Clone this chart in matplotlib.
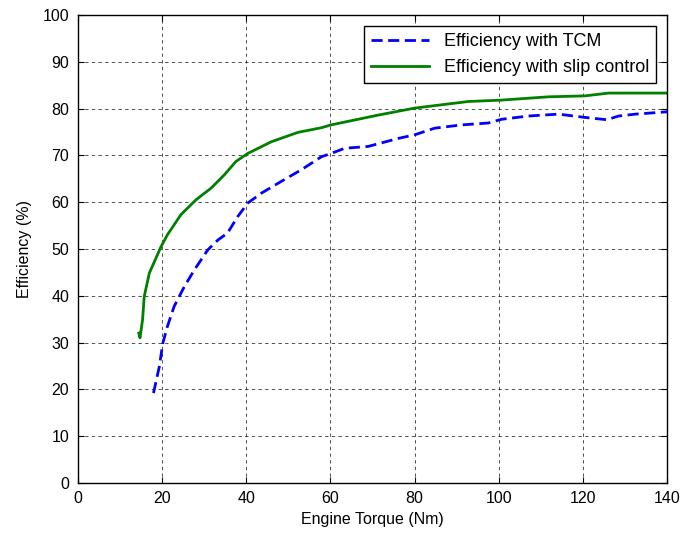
import matplotlib
matplotlib.use('Agg')
import matplotlib.pyplot as plt

plt.rcParams['font.family'] = ['Liberation Sans', 'DejaVu Sans']

# efficiency with TCM (blue dashed)
tcm_torque = [18.0, 19.4, 20.2, 21.3, 22.9, 25.3, 27.7, 30.9, 33.3, 35.6, 38.0,
              40.4, 43.6, 48.3, 53.1, 57.9, 60.2, 63.4, 69.0, 76.1, 80.1, 84.8,
              91.2, 97.5, 100.7, 107.1, 114.2, 120.5, 125.7, 128.5, 132.5, 140.0]
tcm_eff = [19.2, 24.9, 29.8, 33.4, 37.7, 41.9, 45.5, 49.8, 51.9, 53.4, 56.9,
           59.8, 61.9, 64.4, 66.9, 69.7, 70.4, 71.5, 71.9, 73.6, 74.4, 75.8,
           76.5, 76.9, 77.7, 78.4, 78.8, 78.1, 77.6, 78.4, 78.8, 79.3]

# efficiency with slip control (green solid)
slip_torque = [14.5, 14.8, 15.4, 15.8, 17.0, 19.8, 21.3, 24.5, 28.1, 31.7, 34.8,
               37.6, 40.4, 46.0, 52.3, 57.9, 60.2, 71.4, 80.1, 92.8, 100.7,
               111.8, 120.5, 126.1, 140.0]
slip_eff = [32.0, 31.0, 34.8, 39.8, 44.8, 50.5, 53.0, 57.3, 60.5, 63.0, 65.8,
            68.7, 70.4, 72.9, 74.9, 75.9, 76.5, 78.6, 80.1, 81.5, 81.8,
            82.5, 82.7, 83.3, 83.3]

fig = plt.figure(figsize=(7, 5.33), dpi=100)
ax = fig.add_axes([0.111, 0.094, 0.842, 0.878])

ax.plot(tcm_torque, tcm_eff, color='#0000ff', linestyle=(0, (4, 2)), lw=2,
        label='Efficiency with TCM')
ax.plot(slip_torque, slip_eff, color='#008000', linestyle='-', lw=2,
        label='Efficiency with slip control')

ax.set_xlim(0, 140)
ax.set_ylim(0, 100)
ax.set_xticks(range(0, 141, 20))
ax.set_yticks(range(0, 101, 10))
ax.grid(True, color='black', linestyle=(0, (4, 4)), lw=0.6, alpha=0.8)
ax.tick_params(direction='in', top=True, right=True, labelsize=11.5, length=4,
               pad=6)
for s in ax.spines.values():
    s.set_linewidth(1.0)

ax.set_xlabel('Engine Torque (Nm)', fontsize=11.5, labelpad=4)
ax.set_ylabel('Efficiency (%)', fontsize=11.5, labelpad=8)

leg = ax.legend(loc='upper right', fontsize=13, fancybox=False, framealpha=1,
                edgecolor='black', handlelength=3.2, borderaxespad=0.6,
                labelspacing=0.5, borderpad=0.4)
leg.get_frame().set_linewidth(1.0)

fig.savefig('out.png', dpi=100)
